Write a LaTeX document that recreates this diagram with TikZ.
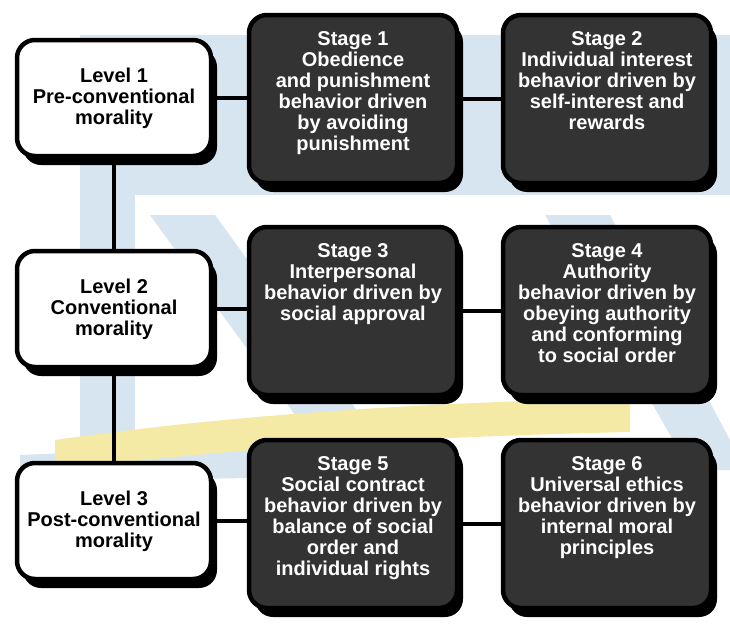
\documentclass[tikz,border=0pt]{standalone}
\usepackage{fontspec}
\setmainfont{Liberation Sans}
\usetikzlibrary{shadows}
\definecolor{wmblue}{HTML}{D7E5F1}
\definecolor{wmyellow}{HTML}{F5E9A6}
\newcommand\stgtext[1]{\parbox[c][134pt][t]{206pt}{\centering #1}}
\tikzset{
  boxbase/.style={line width=4.5pt, draw=black, rounded corners=18pt, align=center,
    font=\bfseries\fontsize{20}{21}\selectfont,
    drop shadow={shadow xshift=6pt, shadow yshift=-9pt, fill=black, opacity=1}},
  lvl/.style={boxbase, fill=white, text=black, minimum width=194pt, minimum height=116pt},
  stg/.style={boxbase, fill=black!80, text=white, inner sep=0pt, minimum width=208pt, minimum height=168pt},
  link/.style={line width=4pt, draw=black}
}
\begin{document}
\begin{tikzpicture}[x=1pt,y=-1pt]
\useasboundingbox (0,0) rectangle (730,632);
\fill[white] (0,0) rectangle (730,632);
% faint watermark
\fill[wmblue] (80,35) rectangle (730,195);
\fill[wmblue] (80,195) -- (135,195) -- (135,470) -- (80,470) -- cycle;
\fill[wmblue] (150,215) -- (215,215) -- (400,470) -- (335,470) -- cycle;
\fill[wmblue] (545,215) -- (610,215) -- (730,440) -- (730,470) -- (690,470) -- cycle;
\fill[wmblue] (20,455) -- (250,445) -- (250,478) -- (20,482) -- cycle;
\fill[wmyellow] (55,440) .. controls (250,412) and (450,402) .. (630,398)
  -- (630,432) .. controls (450,436) and (250,446) .. (55,470) -- cycle;
% level boxes
\node[lvl] (l1) at (114,98) {Level 1\\Pre-conventional\\morality};
\node[lvl] (l2) at (114,309) {Level 2\\Conventional\\morality};
\node[lvl] (l3) at (114,521) {Level 3\\Post-conventional\\morality};
% stage boxes
\node[stg] (s1) at (353,99) {\stgtext{Stage 1\\Obedience\\and punishment\\behavior driven\\by avoiding\\punishment}};
\node[stg] (s2) at (607,99) {\stgtext{Stage 2\\Individual interest\\behavior driven by\\self-interest and\\rewards}};
\node[stg] (s3) at (353,311) {\stgtext{Stage 3\\Interpersonal\\behavior driven by\\social approval}};
\node[stg] (s4) at (607,311) {\stgtext{Stage 4\\Authority\\behavior driven by\\obeying authority\\and conforming\\to social order}};
\node[stg] (s5) at (353,524) {\stgtext{Stage 5\\Social contract\\behavior driven by\\balance of social\\order and\\individual rights}};
\node[stg] (s6) at (607,524) {\stgtext{Stage 6\\Universal ethics\\behavior driven by\\internal moral\\principles}};
% connectors
\draw[link] (l1.south) -- (l2.north);
\draw[link] (l2.south) -- (l3.north);
\draw[link] (l1.east) -- (l1.east -| s1.west);
\draw[link] (s1.east) -- (s1.east -| s2.west);
\draw[link] (l2.east) -- (l2.east -| s3.west);
\draw[link] (s3.east) -- (s3.east -| s4.west);
\draw[link] (l3.east) -- (l3.east -| s5.west);
\draw[link] (s5.east) -- (s5.east -| s6.west);
\end{tikzpicture}
\end{document}
